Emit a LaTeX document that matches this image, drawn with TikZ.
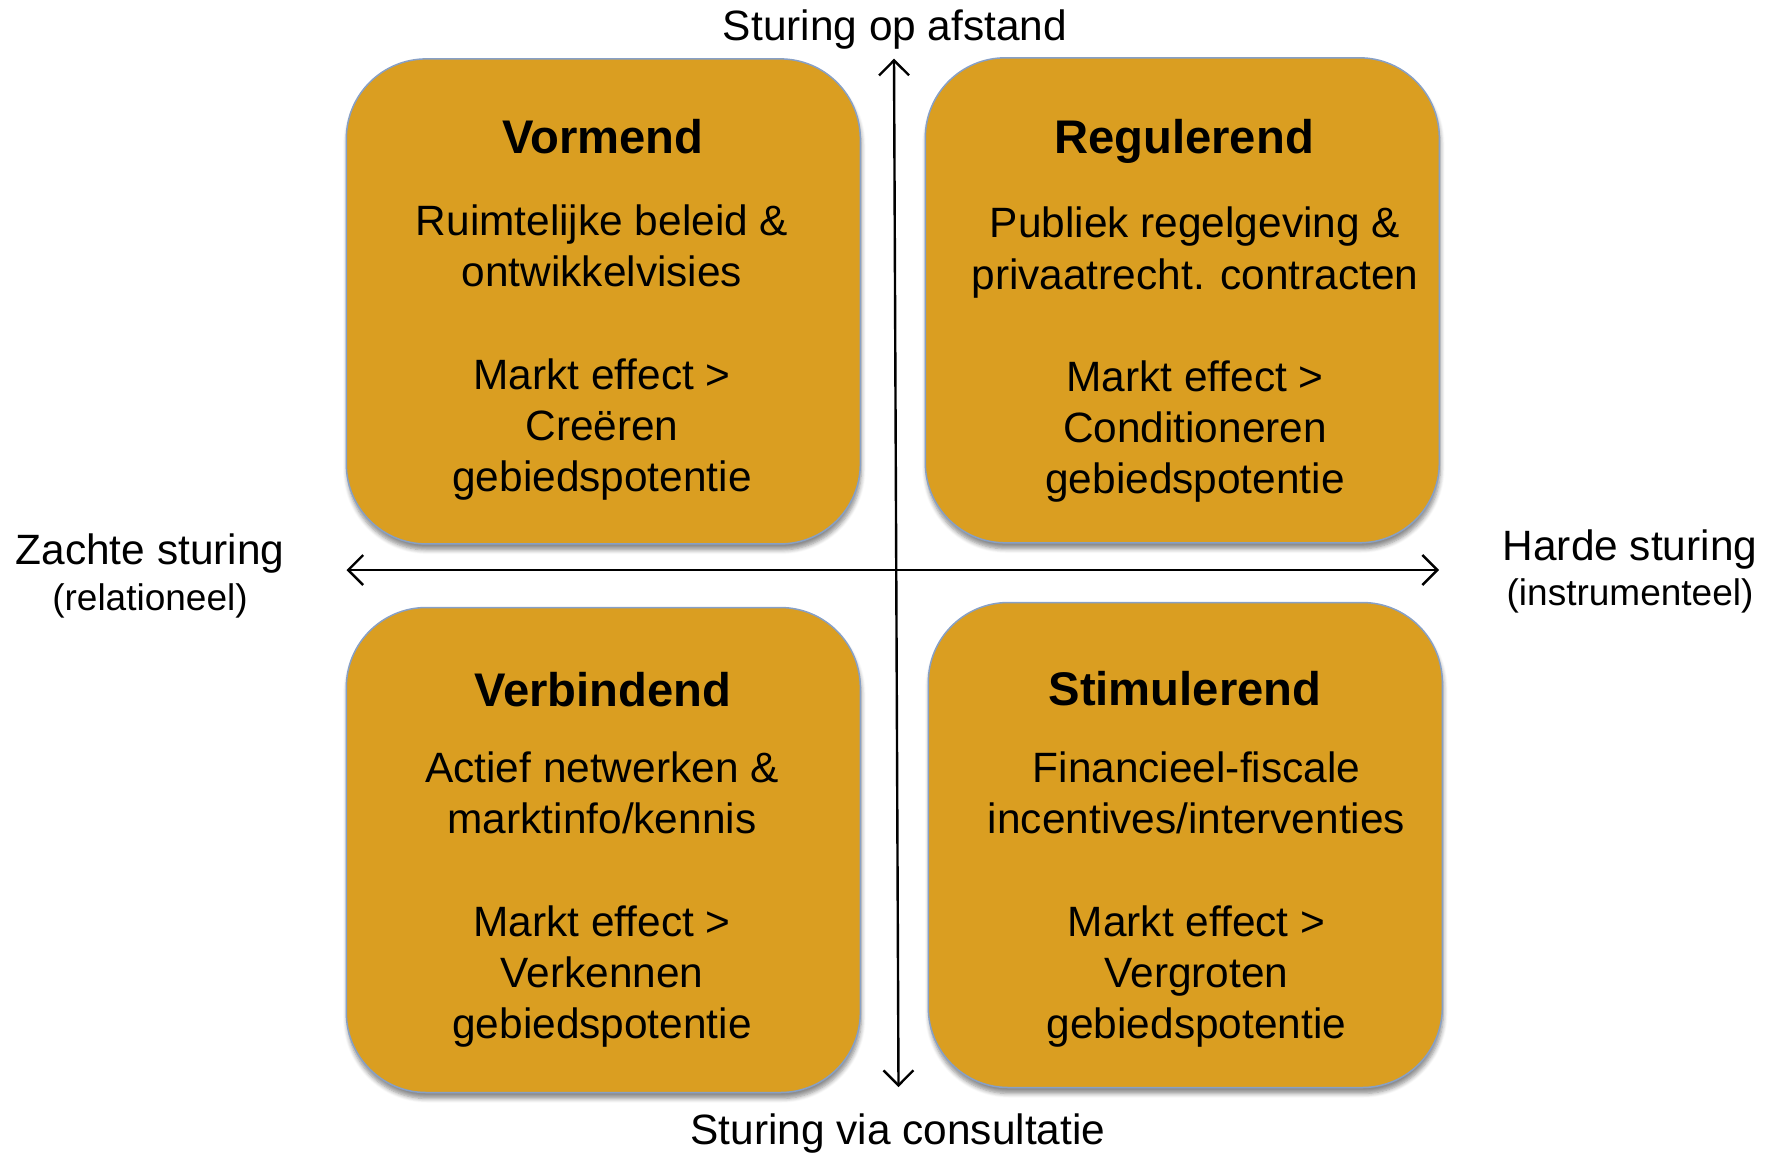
\documentclass[tikz,border=0pt]{standalone}
\usepackage{fontspec}
\setmainfont{Liberation Sans}
\usetikzlibrary{arrows.meta,shadows.blur}
\definecolor{boxfill}{RGB}{218,158,33}
\definecolor{boxline}{RGB}{135,160,198}
\begin{document}
\begin{tikzpicture}[x=0.5pt,y=-0.5pt,
  quad/.style={draw=boxline, line width=0.75pt, fill=boxfill, rounded corners=40pt,
    minimum width=257pt, minimum height=242.5pt, inner sep=0pt,
    blur shadow={shadow xshift=0.5pt, shadow yshift=-3pt, shadow blur steps=6, shadow opacity=45}},
  qtitle/.style={font=\fontsize{23.6}{28}\selectfont\bfseries, inner sep=0pt, anchor=base},
  qbody/.style={font=\fontsize{21.2}{25.6}\selectfont, align=center, inner sep=0pt},
  lbl/.style={font=\fontsize{21.2}{25.6}\selectfont, inner sep=0pt, anchor=base},
  sublbl/.style={font=\fontsize{18.5}{22}\selectfont, inner sep=0pt, anchor=base},
  axis/.style={line width=1.2pt, {Straight Barb[length=7.5pt,width=15pt]}-{Straight Barb[length=7.5pt,width=15pt]}}
]
\useasboundingbox (0,0) rectangle (1770,1152);

% boxes
\node[quad] (vormend) at (603.3,301.4) {};
\node[quad] (regulerend) at (1182.3,300.3) {};
\node[quad] (verbindend) at (603.3,850) {};
\node[quad] (stimulerend) at (1185.3,845) {};

% axes
\coordinate (vtop) at (894,58.7);
\coordinate (vbot) at (898.5,1087);
\coordinate (hleft) at (346.5,570);
\coordinate (hright) at (1439,570);
\draw[axis] (vbot) -- (vtop);
\draw[axis] (hleft) -- (hright);

% titles
\node[qtitle] (t1) at (603,153.5) {Vormend};
\node[qtitle] (t2) at (1184,153.5) {Regulerend};
\node[qtitle] (t3) at (603,706.6) {Verbindend};
\node[qtitle] (t4) at (1185,705.5) {Stimulerend};

% bodies
\node[qbody] (b1) at (602,352.7) {Ruimtelijke beleid \&\\ontwikkelvisies\\\mbox{}\\Markt effect >\\Creëren\\gebiedspotentie};
\node[qbody] (b2) at (1195,355) {Publiek regelgeving \&\\privaatrecht. contracten\\\mbox{}\\Markt effect >\\Conditioneren\\gebiedspotentie};
\node[qbody] (b3) at (602,899.5) {Actief netwerken \&\\marktinfo/kennis\\\mbox{}\\Markt effect >\\Verkennen\\gebiedspotentie};
\node[qbody] (b4) at (1196.5,899.5) {Financieel-fiscale\\incentives/interventies\\\mbox{}\\Markt effect >\\Vergroten\\gebiedspotentie};

% axis labels
\node[lbl] (top) at (895,40) {Sturing op afstand};
\node[lbl] (bottom) at (898,1144) {Sturing via consultatie};
\node[lbl] (left1) at (150,564) {Zachte sturing};
\node[sublbl] (left2) at (150,610) {(relationeel)};
\node[lbl] (right1) at (1630,560) {Harde sturing};
\node[sublbl] (right2) at (1630,605.5) {(instrumenteel)};
\end{tikzpicture}
\end{document}
